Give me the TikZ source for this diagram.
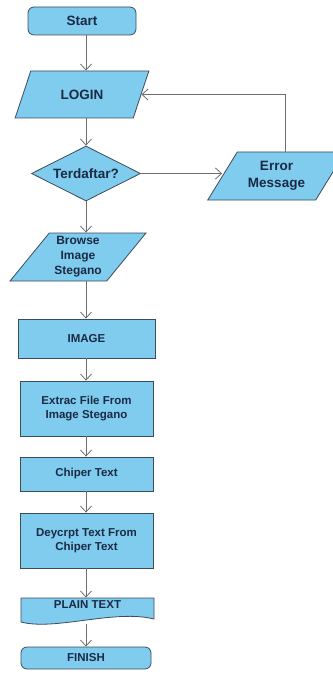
\documentclass[tikz,border=0pt]{standalone}
\usepackage{fontspec}
\setmainfont{Liberation Sans}
\usetikzlibrary{shapes.geometric,arrows.meta,backgrounds}
\definecolor{fillb}{HTML}{80CCEE}
\definecolor{txt}{HTML}{1B2A44}
\definecolor{edgec}{HTML}{3C4C5C}
\definecolor{arrc}{HTML}{6E6E6E}
\begin{document}
\begin{tikzpicture}[x=1pt,y=-1pt,
  box/.style={draw=edgec, fill=fillb, line width=0.8pt, text=txt,
    font=\bfseries\fontsize{11.5}{14.3}\selectfont, align=center, inner sep=0pt},
  bigtxt/.style={font=\bfseries\fontsize{13.5}{16.5}\selectfont},
  term/.style={box, rounded corners=6pt},
  para/.style 2 args={box, trapezium, trapezium stretches=true,
    trapezium left angle=#1, trapezium right angle=#2},
  decis/.style={box, diamond, aspect=2},
  arr/.style={draw=arrc, line width=0.8pt, -{Straight Barb[length=6pt,width=11pt]}}
]
\useasboundingbox (0,0) rectangle (332,679);
\coordinate (col) at (86,0);
\coordinate (loopx) at (285,0);

\node[term, bigtxt, minimum width=108pt, minimum height=28pt] (start) at (82,21) {Start};
\node[para={55.8}{124.2}, bigtxt, minimum width=134pt, minimum height=47pt] (login) at (82,94.5) {LOGIN};
\node[decis, bigtxt, minimum width=109pt, minimum height=55pt] (dia) at (86,173.5) {Terdaftar?};
\node[para={53.1}{126.9}, bigtxt, minimum width=139pt, minimum height=48pt] (err) at (276.5,176) {Error\\Message};
\node[para={51.6}{128.4}, font=\bfseries\fontsize{12}{15}\selectfont, minimum width=136pt, minimum height=48pt] (browse) at (78,257) {Browse\\Image\\Stegano};
\node[box, minimum width=137pt, minimum height=39pt] (img) at (86.5,338.5) {IMAGE};
\node[box, minimum width=133pt, minimum height=55pt] (ext) at (86.5,408.5) {Extrac File From\\Image Stegano};
\node[box, minimum width=133pt, minimum height=34pt] (chi) at (86.5,474) {Chiper Text};
\node[box, minimum width=133pt, minimum height=55pt] (dec) at (86.5,540.5) {Deycrpt Text From\\Chiper Text};
\node[box, draw=none, fill=none, minimum width=133pt, minimum height=14pt] (plain) at (87.5,605) {PLAIN TEXT};
\begin{scope}[on background layer]
  \draw[draw=edgec, fill=fillb, line width=0.8pt]
    (21,598) -- (21,622) .. controls (55,631) and (115,609) .. (154,619) -- (154,598) -- cycle;
\end{scope}
\coordinate (plainbot) at (86,624);
\node[term, minimum width=130pt, minimum height=22pt] (fin) at (86,658) {FINISH};

\draw[arr] (start.south -| col) -- (login.north -| col);
\draw[arr] (login.south -| col) -- (dia.north -| col);
\draw[arr] (dia.south -| col) -- (browse.north -| col);
\draw[arr] (browse.south -| col) -- (img.north -| col);
\draw[arr] (img.south -| col) -- (ext.north -| col);
\draw[arr] (ext.south -| col) -- (chi.north -| col);
\draw[arr] (chi.south -| col) -- (dec.north -| col);
\draw[arr] (dec.south -| col) -- (plain.north -| col);
\draw[arr] (plainbot) -- (fin.north -| col);
\draw[arr] (dia.east) -- (dia.east -| err.west);
\draw[arr] (err.north -| loopx) |- (login.east);
\end{tikzpicture}
\end{document}
